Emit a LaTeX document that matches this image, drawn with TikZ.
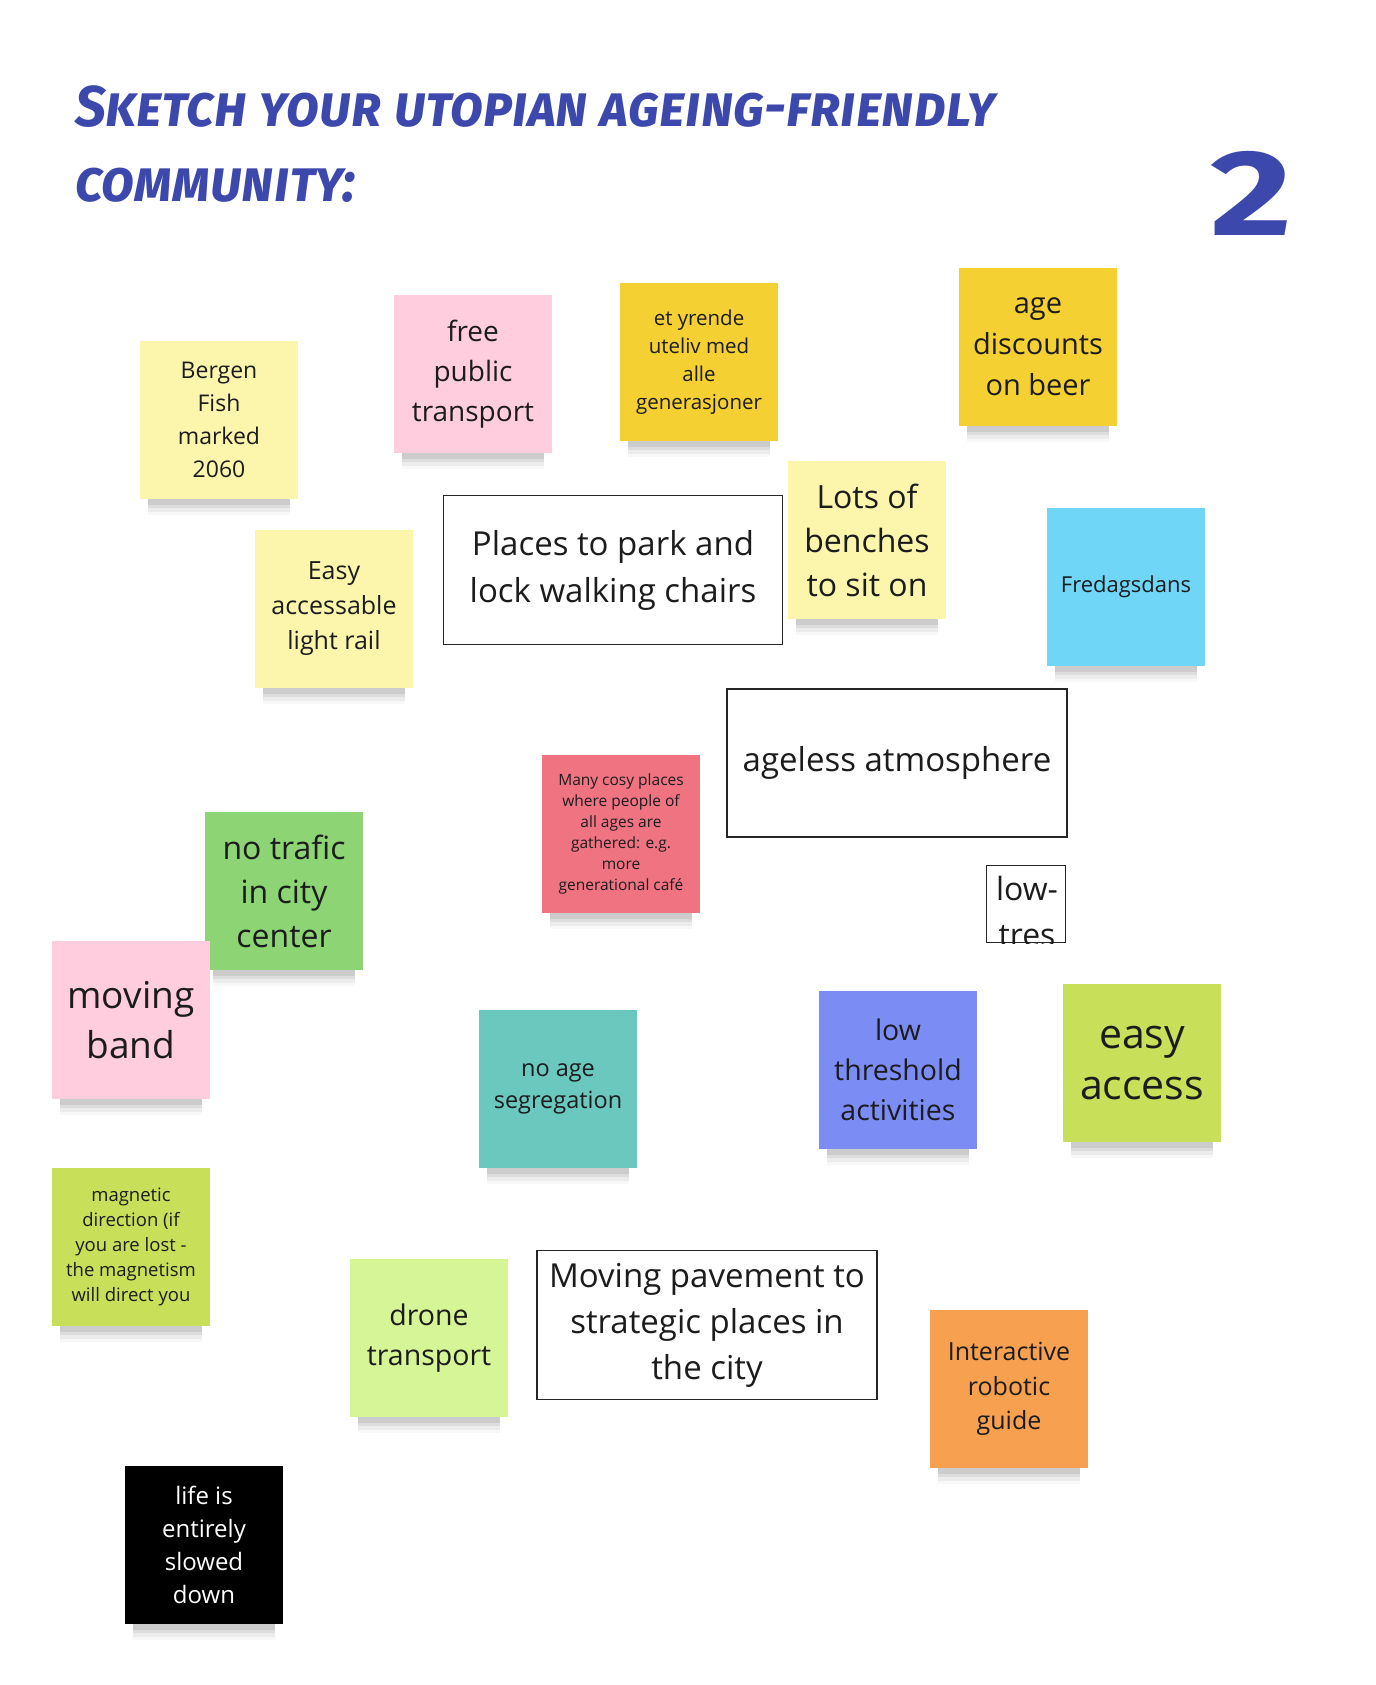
\documentclass[tikz,border=0pt]{standalone}
\usepackage{fontspec}
\setmainfont{Open Sans}
\newfontfamily\markerfont{Fira Sans}
\usepackage{tikz}
\usetikzlibrary{shadows}

\definecolor{ink}{RGB}{28,28,30}
\definecolor{marker}{RGB}{61,72,172}
\definecolor{paleyellow}{RGB}{252,246,172}
\definecolor{notegold}{RGB}{245,208,51}
\definecolor{palepink}{RGB}{255,205,222}
\definecolor{skyblue}{RGB}{112,214,247}
\definecolor{coral}{RGB}{240,115,130}
\definecolor{leafgreen}{RGB}{141,212,117}
\definecolor{seateal}{RGB}{106,200,190}
\definecolor{periwinkle}{RGB}{124,140,245}
\definecolor{notelime}{RGB}{200,223,90}
\definecolor{palegreen}{RGB}{214,245,150}
\definecolor{noteorange}{RGB}{247,160,80}

\newcommand\notefont[2]{\fontsize{#1}{#2}\selectfont}

\begin{document}
\begin{tikzpicture}[
  x=1pt, y=-1pt,
  every node/.style={align=center},
  note/.style={minimum width=158pt, minimum height=158pt, inner sep=0pt, text=ink,
    drop shadow={shadow xshift=0pt, shadow yshift=-27pt, shadow scale=0.9, opacity=0.06},
    drop shadow={shadow xshift=0pt, shadow yshift=-23pt, shadow scale=0.9, opacity=0.1},
    drop shadow={shadow xshift=0pt, shadow yshift=-19pt, shadow scale=0.9, opacity=0.14},
    drop shadow={shadow xshift=0pt, shadow yshift=-15pt, shadow scale=0.9, opacity=0.18}},
  textbox/.style={draw=black!85, line width=1.5pt, fill=white, inner sep=0pt, text=ink},
  titletext/.style={text=marker, inner sep=0pt, anchor=base west,
    font=\markerfont\bfseries\itshape\scshape\notefont{46}{50}}
]
  \useasboundingbox (0,0) rectangle (1375,1685);

  % heading
  \node[titletext] (title) at (75,127) {\scalebox{1.19}[1.25]{Sketch your utopian ageing-friendly}};
  \node[titletext] (title2) at (75,202) {\scalebox{1.19}[1.25]{community:}};
  \node[text=marker, inner sep=0pt, anchor=base, font=\markerfont\bfseries\notefont{122}{122}] (number) at (1251,236) {\scalebox{1.3}[1]{2}};

  % sticky notes, top rows
  \node[note, fill=paleyellow, font=\notefont{23}{33}] (bergen) at (219,420) {Bergen\\Fish\\marked\\2060};
  \node[note, fill=palepink, font=\notefont{28}{40}] (free) at (473,374) {free\\public\\transport};
  \node[note, fill=notegold, font=\notefont{20.5}{28}] (uteliv) at (699,362) {et yrende\\uteliv med\\alle\\generasjoner};
  \node[note, fill=notegold, font=\notefont{29}{41}] (beer) at (1038,347) {age\\discounts\\on beer};
  \node[note, fill=paleyellow, font=\notefont{32}{44}] (benches) at (867,540) {Lots of\\benches\\to sit on};
  \node[note, fill=skyblue, font=\notefont{22}{30}] (dans) at (1126,587) {Fredagsdans};
  \node[note, fill=paleyellow, font=\notefont{25}{35}] (rail) at (334,609) {Easy\\accessable\\light rail};
  \node[textbox, minimum width=339pt, minimum height=149pt, font=\notefont{33}{47}] (park) at (613,570) {Places to park and\\lock walking chairs};

  % middle
  \node[textbox, minimum width=340pt, minimum height=148pt, font=\notefont{33}{44}] (ageless) at (897,763) {ageless atmosphere};
  \node[note, fill=coral, font=\notefont{15.5}{21}] (cosy) at (621,834) {Many cosy places\\where people of\\all ages are\\gathered: e.g.\\more\\generational café};
  \node[draw=black!85, line width=1.5pt, minimum width=79pt, minimum height=77pt, inner sep=0pt] (lowtres) at (1026,904) {};
  \begin{scope}
    \clip (lowtres.south west) rectangle (lowtres.north east);
    \node[anchor=north, inner sep=0pt, text=ink, font=\notefont{32}{46}] (lowtrestext) at (1027,876) {low-\\tres};
  \end{scope}
  \node[note, fill=leafgreen, font=\notefont{32}{44}] (trafic) at (284,891) {no trafic\\in city\\center};
  \node[note, fill=palepink, font=\notefont{37}{50}] (band) at (131,1020) {moving\\band};
  \node[note, fill=seateal, font=\notefont{23.5}{32}] (segregation) at (558,1089) {no age\\segregation};
  \node[note, fill=periwinkle, font=\notefont{28.5}{40}] (threshold) at (898,1070) {low\\threshold\\activities};
  \node[note, fill=notelime, font=\notefont{41}{51}] (access) at (1142,1063) {easy\\access};

  % bottom rows
  \node[note, fill=notelime, font=\notefont{18.5}{25}] (magnetic) at (131,1247) {magnetic\\direction (if\\you are lost -\\the magnetism\\will direct you};
  \node[note, fill=palegreen, font=\notefont{28.5}{40}] (drone) at (429,1338) {drone\\transport};
  \node[textbox, minimum width=340pt, minimum height=149pt, font=\notefont{33}{46}] (pavement) at (707,1325) {Moving pavement to\\strategic places in\\the city};
  \node[note, fill=noteorange, font=\notefont{25}{34.5}] (robot) at (1009,1389) {Interactive\\robotic\\guide};
  \node[note, fill=black, text=white, font=\notefont{24}{33}] (slowed) at (204,1545) {life is\\entirely\\slowed\\down};
\end{tikzpicture}
\end{document}
